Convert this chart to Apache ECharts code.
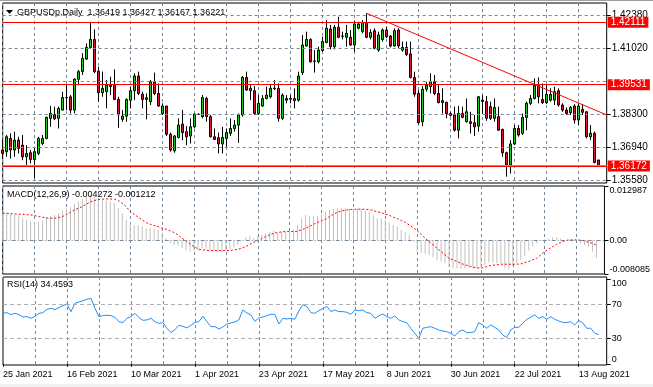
<!DOCTYPE html>
<html><head><meta charset="utf-8">
<script src="https://cdn.jsdelivr.net/npm/echarts@6/dist/echarts.min.js"></script>
<style>html,body{margin:0;padding:0;background:#fff}#c{width:653px;height:387px}</style>
</head><body><div id="c"></div>
<script>
const opens=[1.3683,1.3676,1.3731,1.3683,1.3724,1.3703,1.3655,1.3672,1.3644,1.3669,
1.3710,1.3731,1.3814,1.3830,1.3814,1.3848,1.3899,1.3903,1.3848,1.3975,
1.4007,1.4059,1.4106,1.4140,1.4009,1.3920,1.3924,1.3945,1.3951,1.3892,
1.3810,1.3823,1.3889,1.3928,1.3989,1.3914,1.3892,1.3883,1.3965,1.3917,
1.3834,1.3865,1.3748,1.3680,1.3735,1.3790,1.3759,1.3741,1.3779,1.3830,
1.3821,1.3896,1.3821,1.3738,1.3734,1.3708,1.3731,1.3752,1.3772,1.3786,
1.3828,1.3983,1.3928,1.3928,1.3834,1.3865,1.3896,1.3903,1.3938,1.3938,
1.3814,1.3896,1.3893,1.3896,1.3889,1.4003,1.4113,1.4140,1.4051,1.4048,
1.4094,1.4127,1.4183,1.4110,1.4190,1.4154,1.4149,1.4149,1.4117,1.4186,
1.4172,1.4209,1.4149,1.4176,1.4096,1.4140,1.4179,1.4154,1.4113,1.4179,
1.4096,1.4107,1.4080,1.3983,1.3917,1.3800,1.3934,1.3945,1.3965,1.3917,
1.3887,1.3880,1.3834,1.3830,1.3765,1.3834,1.3800,1.3800,1.3796,1.3782,
1.3889,1.3883,1.3862,1.3814,1.3821,1.3768,1.3672,1.3621,1.3708,1.3772,
1.3752,1.3818,1.3876,1.3896,1.3951,1.3892,1.3879,1.3889,1.3889,1.3928,
1.3869,1.3848,1.3837,1.3865,1.3807,1.3851,1.3841,1.3738,1.3752,1.36419];
const closes=[1.3669,1.3738,1.3683,1.3724,1.3690,1.3655,1.3669,1.3644,1.3676,1.3731,
1.3731,1.3818,1.3834,1.3812,1.3855,1.3900,1.3900,1.3848,1.3976,1.4007,
1.4062,1.4107,1.4140,1.4007,1.3920,1.3938,1.3951,1.3951,1.3892,1.3830,
1.3823,1.3892,1.3928,1.3989,1.3917,1.3892,1.3899,1.3965,1.3917,1.3865,
1.3865,1.3748,1.3683,1.3741,1.3786,1.3755,1.3738,1.3779,1.3832,1.3831,
1.3900,1.3821,1.3738,1.3727,1.3708,1.3735,1.3755,1.3772,1.3786,1.3828,
1.3983,1.3931,1.3938,1.3834,1.3876,1.3896,1.3910,1.3938,1.3936,1.3814,
1.3910,1.3889,1.3896,1.3887,1.3989,1.4117,1.4140,1.4048,1.4050,1.4096,
1.4131,1.4186,1.4110,1.4190,1.4149,1.4153,1.4165,1.4117,1.4204,1.4204,
1.4209,1.4149,1.4169,1.4103,1.4158,1.4179,1.4151,1.4113,1.4176,1.4113,
1.4107,1.4078,1.3983,1.3914,1.3796,1.3934,1.3951,1.3965,1.3917,1.3879,
1.3879,1.3834,1.3826,1.3765,1.3834,1.3818,1.3841,1.3793,1.3779,1.3903,
1.3883,1.3814,1.3814,1.3859,1.3765,1.3672,1.3621,1.3708,1.3772,1.3745,
1.3818,1.3876,1.3896,1.3951,1.3903,1.3879,1.3913,1.3913,1.3924,1.3869,
1.3848,1.3834,1.3859,1.3807,1.3865,1.3839,1.3738,1.3752,1.3632,1.36221];
const lows=[1.3648,1.3655,1.3648,1.3655,1.3669,1.3641,1.3614,1.3628,1.3566,1.3662,
1.3703,1.3727,1.3779,1.3807,1.3772,1.3848,1.3848,1.3834,1.3834,1.3951,
1.3993,1.4055,1.4103,1.4000,1.3883,1.3903,1.3855,1.3910,1.3889,1.3775,
1.3800,1.3800,1.3855,1.3889,1.3910,1.3855,1.3810,1.3869,1.3910,1.3862,
1.3828,1.3741,1.3676,1.3672,1.3731,1.3724,1.3703,1.3710,1.3772,1.3828,
1.3814,1.3800,1.3735,1.3724,1.3669,1.3669,1.3696,1.3741,1.3759,1.3713,
1.3821,1.3928,1.3889,1.3828,1.3828,1.3862,1.3892,1.3896,1.3931,1.3800,
1.3807,1.3876,1.3876,1.3855,1.3883,1.3993,1.4110,1.4044,1.4003,1.4041,
1.4089,1.4124,1.4099,1.4099,1.4145,1.4140,1.4110,1.4113,1.4089,1.4182,
1.4165,1.4145,1.4140,1.4099,1.4089,1.4131,1.4145,1.4107,1.4110,1.4103,
1.4089,1.4071,1.3979,1.3903,1.3790,1.3782,1.3924,1.3917,1.3910,1.3876,
1.3834,1.3814,1.3821,1.3759,1.3731,1.3814,1.3796,1.3752,1.3741,1.3759,
1.3834,1.3804,1.3807,1.3800,1.3763,1.3655,1.3573,1.3586,1.3703,1.3738,
1.3745,1.3765,1.3869,1.3892,1.3876,1.3873,1.3873,1.3883,1.3869,1.3862,
1.3841,1.3828,1.3828,1.3793,1.3786,1.3828,1.3731,1.3724,1.3628,1.36167];
const highs=[1.3724,1.3745,1.3752,1.3759,1.3738,1.3745,1.3703,1.3683,1.3696,1.3738,
1.3745,1.3821,1.3865,1.3862,1.3862,1.3924,1.3951,1.3910,1.3979,1.4014,
1.4083,1.4124,1.4213,1.4182,1.4027,1.4007,1.3972,1.3986,1.4016,1.3903,
1.3848,1.3896,1.3945,1.4000,1.4007,1.3924,1.3917,1.3972,1.4003,1.3958,
1.3876,1.3865,1.3755,1.3745,1.3814,1.3848,1.3782,1.3814,1.3834,1.3834,
1.3910,1.3903,1.3828,1.3772,1.3755,1.3779,1.3772,1.3814,1.3807,1.3834,
1.3989,1.4007,1.3951,1.3947,1.3910,1.3910,1.3945,1.3951,1.3972,1.3958,
1.3917,1.3910,1.3910,1.3938,1.4007,1.4158,1.4172,1.4145,1.4096,1.4110,
1.4151,1.4220,1.4200,1.4200,1.4234,1.4172,1.4200,1.4179,1.4218,1.4213,
1.4220,1.4248,1.4182,1.4186,1.4172,1.4186,1.4193,1.4158,1.4186,1.4186,
1.4131,1.4131,1.4131,1.4007,1.3931,1.3947,1.3965,1.4000,1.3993,1.3951,
1.3938,1.3883,1.3841,1.3862,1.3865,1.3862,1.3896,1.3841,1.3828,1.3906,
1.3910,1.3906,1.3883,1.3896,1.3862,1.3772,1.3676,1.3724,1.3786,1.3786,
1.3834,1.3883,1.3910,1.3979,1.3983,1.3958,1.3951,1.3938,1.3945,1.3938,
1.3876,1.3859,1.3865,1.3873,1.3876,1.3873,1.3844,1.3786,1.3759,1.36427];
const macdHist=[0.00646,0.00646,0.00622,0.00606,0.00583,0.00527,0.00487,0.00447,0.00431,0.00447,
0.00471,0.00551,0.00583,0.00606,0.00646,0.00710,0.00766,0.00790,0.00870,0.00926,
0.00982,0.01045,0.01085,0.01061,0.01005,0.00966,0.00950,0.00926,0.00886,0.00766,
0.00646,0.00487,0.00407,0.00367,0.00367,0.00327,0.00287,0.00287,0.00263,0.00247,
0.00184,0.00048,-0.00072,-0.00112,-0.00128,-0.00192,-0.00247,-0.00271,-0.00255,-0.00255,
-0.00192,-0.00215,-0.00247,-0.00271,-0.00295,-0.00295,-0.00247,-0.00215,-0.00176,-0.00112,
0.00008,0.00072,0.00088,0.00048,0.00088,0.00128,0.00168,0.00207,0.00231,0.00168,
0.00207,0.00207,0.00207,0.00247,0.00367,0.00527,0.00606,0.00567,0.00567,0.00583,
0.00630,0.00686,0.00726,0.00750,0.00766,0.00766,0.00766,0.00750,0.00742,0.00758,
0.00742,0.00710,0.00686,0.00606,0.00527,0.00527,0.00487,0.00423,0.00367,0.00327,
0.00247,0.00184,0.00128,-0.00032,-0.00271,-0.00311,-0.00327,-0.00351,-0.00407,-0.00471,
-0.00511,-0.00551,-0.00646,-0.00670,-0.00670,-0.00686,-0.00670,-0.00670,-0.00678,-0.00678,
-0.00646,-0.00591,-0.00535,-0.00535,-0.00551,-0.00551,-0.00670,-0.00694,-0.00614,-0.00551,
-0.00471,-0.00375,-0.00247,-0.00152,-0.00072,-0.00016,0.00024,0.00040,0.00072,0.00072,
0.00040,0.00008,-0.00008,-0.00032,-0.00016,-0.00072,-0.00112,-0.00152,-0.00271,-0.004272];
const macdSignal=[0.00646,0.00646,0.00638,0.00630,0.00622,0.00622,0.00614,0.00606,0.00591,0.00567,
0.00551,0.00535,0.00527,0.00527,0.00543,0.00567,0.00614,0.00670,0.00726,0.00766,
0.00806,0.00862,0.00918,0.00950,0.00974,0.00982,0.00990,0.00990,0.00982,0.00950,
0.00886,0.00806,0.00686,0.00622,0.00551,0.00487,0.00423,0.00383,0.00351,0.00327,
0.00287,0.00263,0.00231,0.00184,0.00128,0.00048,-0.00016,-0.00088,-0.00152,-0.00207,
-0.00231,-0.00239,-0.00247,-0.00247,-0.00247,-0.00247,-0.00247,-0.00247,-0.00231,-0.00215,
-0.00192,-0.00152,-0.00096,-0.00048,-0.00008,0.00040,0.00088,0.00128,0.00168,0.00184,
0.00200,0.00207,0.00207,0.00207,0.00215,0.00247,0.00287,0.00327,0.00383,0.00423,
0.00471,0.00503,0.00567,0.00622,0.00670,0.00702,0.00718,0.00734,0.00742,0.00742,
0.00742,0.00742,0.00734,0.00710,0.00678,0.00662,0.00622,0.00599,0.00551,0.00519,
0.00471,0.00431,0.00367,0.00303,0.00231,0.00144,0.00048,-0.00032,-0.00112,-0.00192,
-0.00271,-0.00351,-0.00431,-0.00471,-0.00511,-0.00551,-0.00591,-0.00614,-0.00646,-0.00662,
-0.00670,-0.00646,-0.00614,-0.00599,-0.00591,-0.00575,-0.00575,-0.00575,-0.00575,-0.00575,
-0.00567,-0.00535,-0.00511,-0.00471,-0.00431,-0.00351,-0.00271,-0.00215,-0.00152,-0.00096,
-0.00056,-0.00016,0.00008,0.00008,0.00008,0,-0.00016,-0.00048,-0.00072,-0.001212];
const rsi=[59.4,60.2,57.8,59.4,57.8,55.1,55.5,53.5,55.9,59.4,
60.2,64.1,65.3,63.7,66.1,68.4,70.4,61.4,71.2,72.7,
74.3,75.9,77.1,65.3,55.5,56.7,57.1,56.7,54.7,49.6,
48.4,53.5,55.5,59.4,54.3,51.2,51.6,53.5,49.6,47.6,
48.4,41.8,36.7,40.2,45.3,44.1,42.2,45.3,48.8,49.6,
55.9,49.6,43.7,43.7,41.0,43.3,46.9,48.0,49.2,51.6,
63.3,59.8,57.5,50.0,53.9,55.1,56.7,58.2,58.2,46.9,
53.5,52.7,53.5,52.4,62.2,69.6,67.3,60.2,59.4,62.5,
64.9,67.6,61.4,63.3,61.4,61.4,60.6,58.2,63.3,62.5,
63.3,60.2,59.4,53.5,56.3,58.6,55.5,53.5,56.3,51.6,
49.6,48.4,41.8,35.9,30.0,41.8,42.9,43.7,41.8,39.8,
38.6,37.8,35.9,32.7,37.8,39.8,36.7,36.7,37.8,48.4,
45.7,41.8,45.7,42.9,39.8,33.9,30.8,39.8,42.9,42.9,
47.6,52.4,54.7,57.5,53.5,55.5,52.4,55.5,52.4,50.4,
48.8,48.4,49.6,45.7,50.8,48.4,41.8,41.8,35.9,34.4593];
const dateLabels=['25 Jan 2021','16 Feb 2021','10 Mar 2021','1 Apr 2021','23 Apr 2021','17 May 2021','8 Jun 2021','30 Jun 2021','22 Jul 2021','13 Aug 2021'];
const LABEL_STEP=16, GRID_STEP=8, EMPTY_SLOTS=2;
const priceGridLevels=[1.42380,1.41020,1.39660,1.38300,1.36940,1.35580];
const priceTickLabels=[1.35580,1.36940,1.38300,1.41020,1.42380];
const levelLines=[1.42111,1.39531,1.36172];
const bidPrice=1.36221;
const trendPoints=[[91,1.42479],[151,1.38279]];
const macdTicks=[-0.008085,0,0.012987];
const macdTickText=['-0.008085','0.00','0.012987'];
const rsiTicks=[0,30,70,100];
const rsiLevels=[70,30];

const N=opens.length;
const cats=[];for(let i=0;i<N+EMPTY_SLOTS;i++)cats.push(i);
const candles=opens.map((o,i)=>[o,closes[i],lows[i],highs[i]]);
const FONT='Liberation Sans';
const GRIDC='#778899';
const grids=[{left:2.7,width:604,top:3,height:180},{left:2.7,width:604,top:186,height:88},{left:2.7,width:604,top:277,height:88}]
  .map(g=>Object.assign(g,{show:true,backgroundColor:'#fff',borderColor:'#000',borderWidth:1}));
function xAx(gi,withLabels){
  return {type:'category',gridIndex:gi,data:cats,boundaryGap:false,
    axisLine:{show:false},
    axisTick:{show:withLabels,interval:(i)=>i%LABEL_STEP===0&&i<N,length:3,lineStyle:{color:'#000'}},
    axisLabel:{show:withLabels,interval:(i)=>i%LABEL_STEP===0&&i<N,formatter:(v,i)=>dateLabels[Math.round(i/LABEL_STEP)]||'',
      align:'left',margin:5,fontSize:9,color:'#000',fontFamily:FONT},
    splitLine:{show:true,interval:(i)=>i%GRID_STEP===0,lineStyle:{color:GRIDC,type:[3,3],width:1}}};
}
const ylab={color:'#000',fontFamily:FONT};
const option={
  animation:false,
  textStyle:{fontFamily:FONT},
  grid:grids,
  xAxis:[xAx(0,false),xAx(1,false),xAx(2,true)],
  yAxis:[
    {type:'value',gridIndex:0,position:'right',min:1.35468,max:1.42905,splitLine:{show:false},
      axisLine:{show:false},
      axisTick:{show:true,customValues:priceTickLabels,length:4,lineStyle:{color:'#000'}},
      axisLabel:Object.assign({customValues:priceTickLabels,formatter:v=>v.toFixed(5),fontSize:10,margin:5},ylab)},
    {type:'value',gridIndex:1,position:'right',min:-0.008085,max:0.012987,splitLine:{show:false},axisLine:{show:false},
      axisTick:{show:true,customValues:macdTicks,length:4,lineStyle:{color:'#000'}},
      axisLabel:Object.assign({customValues:macdTicks,formatter:v=>{const k=macdTicks.indexOf(v);return k>=0?macdTickText[k]:String(v);},fontSize:9,margin:5,
        verticalAlignMaxLabel:'top',verticalAlignMinLabel:'bottom'},ylab)},
    {type:'value',gridIndex:2,position:'right',min:-1.4,max:102.1,splitLine:{show:false},axisLine:{show:false},
      axisTick:{show:true,customValues:rsiTicks,length:4,lineStyle:{color:'#000'}},
      axisLabel:Object.assign({customValues:rsiTicks,formatter:v=>String(v),fontSize:9,margin:5,
        verticalAlignMaxLabel:'top',verticalAlignMinLabel:'bottom'},ylab)}
  ],
  graphic:[
    {type:'rect',shape:{x:0,y:0,width:653,height:1},style:{fill:'#a0a0a0'},z:100},
    {type:'rect',shape:{x:0,y:384,width:653,height:3},style:{fill:'#f0f0f0'},z:100},
    {type:'polygon',shape:{points:[[6,10],[13,10],[9.5,14]]},style:{fill:'#000'},z:100},
    {type:'text',x:17,y:12.5,style:{text:'GBPUSDp,Daily  '+[opens[N-1],highs[N-1],lows[N-1],closes[N-1]].map(v=>v.toFixed(5)).join(' '),
      font:'9px "Liberation Sans"',fill:'#000',verticalAlign:'middle'},z:100},
    {type:'text',x:7,y:194.5,style:{text:'MACD(12,26,9) '+macdHist[N-1].toFixed(6)+' '+macdSignal[N-1].toFixed(6),
      font:'9px "Liberation Sans"',fill:'#000',verticalAlign:'middle'},z:100},
    {type:'text',x:7,y:285,style:{text:'RSI(14) '+rsi[N-1].toFixed(4),
      font:'9px "Liberation Sans"',fill:'#000',verticalAlign:'middle'},z:100}
  ],
  series:[
    {type:'line',xAxisIndex:0,yAxisIndex:0,data:[],z:1,silent:true,
      markLine:{silent:true,precision:6,symbol:['none','none'],label:{show:false},animation:false,
        lineStyle:{color:GRIDC,type:[3,3],width:1},data:priceGridLevels.map(v=>({yAxis:v}))}},
    {type:'candlestick',xAxisIndex:0,yAxisIndex:0,data:candles,barWidth:3,z:3,
      itemStyle:{color:'#1ec81e',color0:'#dc143c',borderColor:'#000',borderColor0:'#000',borderWidth:1}},
    {type:'line',xAxisIndex:0,yAxisIndex:0,data:[],z:5,silent:true,
      markLine:{silent:true,precision:6,symbol:['none','none'],animation:false,
        data:[
          {yAxis:bidPrice,lineStyle:{color:'#8a9aab',type:'solid',width:1},label:{show:false}},
          ...levelLines.map(v=>({yAxis:v,lineStyle:{color:'#ff0000',type:'solid',width:1},
            label:{show:true,position:'end',distance:1,formatter:v.toFixed(5),color:'#fff',backgroundColor:'#ff0000',
              padding:[1,3,0,3],fontSize:10,fontFamily:FONT,lineHeight:10}})),
          [{coord:trendPoints[0],lineStyle:{color:'#ff0000',type:'solid',width:1},label:{show:false}},{coord:trendPoints[1]}]
        ]}},
    {type:'bar',xAxisIndex:1,yAxisIndex:1,data:macdHist,barWidth:1,itemStyle:{color:'#c0c0c0'},z:2,
      markLine:{silent:true,precision:8,symbol:['none','none'],label:{show:false},animation:false,
        lineStyle:{color:GRIDC,type:[4,2,1,2],width:1},data:[{yAxis:0}]}},
    {type:'line',xAxisIndex:1,yAxisIndex:1,data:macdSignal,showSymbol:false,z:3,
      lineStyle:{color:'#ff0000',width:1,type:[2,2]}},
    {type:'line',xAxisIndex:2,yAxisIndex:2,data:rsi,showSymbol:false,z:3,
      lineStyle:{color:'#1e90ff',width:1},
      markLine:{silent:true,precision:4,symbol:['none','none'],label:{show:false},animation:false,
        lineStyle:{color:'#b0b0b0',type:[4,3],width:1},data:rsiLevels.map(v=>({yAxis:v}))}}
  ]
};
const chart=echarts.init(document.getElementById('c'),null,{renderer:'canvas'});
chart.setOption(option);
</script></body></html>
